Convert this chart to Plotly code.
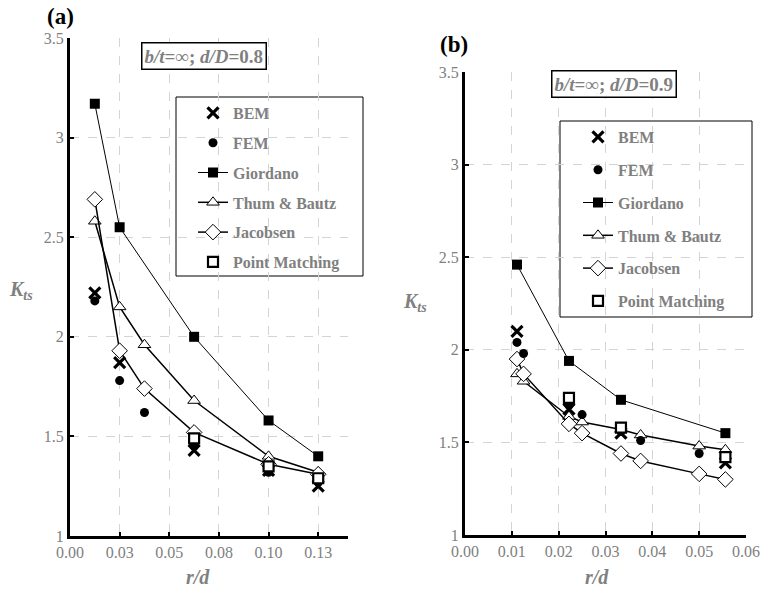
import plotly.graph_objects as go

W, H = 762, 589

# ---------------- data: panel (a) b/t=inf; d/D=0.8 ----------------
a_bem_x = [0.0125, 0.025, 0.0625, 0.1, 0.125]
a_bem_y = [2.22, 1.87, 1.43, 1.33, 1.25]
a_fem_x = [0.0125, 0.025, 0.0375, 0.0625, 0.1, 0.125]
a_fem_y = [2.18, 1.78, 1.62, 1.45, 1.32, 1.27]
a_gio_x = [0.0125, 0.025, 0.0625, 0.1, 0.125]
a_gio_y = [3.17, 2.55, 2.00, 1.58, 1.40]
a_thum_x = [0.0125, 0.025, 0.0375, 0.0625, 0.1, 0.125]
a_thum_y = [2.58, 2.15, 1.96, 1.68, 1.40, 1.32]
a_jac_x = [0.0125, 0.025, 0.0375, 0.0625, 0.1, 0.125]
a_jac_y = [2.69, 1.93, 1.74, 1.52, 1.36, 1.31]
a_pm_x = [0.0625, 0.1, 0.125]
a_pm_y = [1.49, 1.35, 1.29]

# ---------------- data: panel (b) b/t=inf; d/D=0.9 ----------------
b_bem_x = [0.0111, 0.0222, 0.0333, 0.0556]
b_bem_y = [2.10, 1.68, 1.55, 1.39]
b_fem_x = [0.0111, 0.0125, 0.0222, 0.025, 0.0333, 0.0375, 0.05, 0.0556]
b_fem_y = [2.04, 1.98, 1.70, 1.65, 1.56, 1.51, 1.44, 1.42]
b_gio_x = [0.0111, 0.0222, 0.0333, 0.0556]
b_gio_y = [2.46, 1.94, 1.73, 1.55]
b_thum_x = [0.0111, 0.0125, 0.0222, 0.025, 0.0333, 0.0375, 0.05, 0.0556]
b_thum_y = [1.87, 1.83, 1.64, 1.61, 1.57, 1.54, 1.48, 1.46]
b_jac_x = [0.0111, 0.0125, 0.0222, 0.025, 0.0333, 0.0375, 0.05, 0.0556]
b_jac_y = [1.95, 1.87, 1.60, 1.55, 1.44, 1.40, 1.33, 1.30]
b_pm_x = [0.0222, 0.0333, 0.0556]
b_pm_y = [1.74, 1.58, 1.42]

series_names = ["BEM", "FEM", "Giordano", "Thum & Bautz", "Jacobsen", "Point Matching"]

a_xtickvals = [0.0, 0.025, 0.05, 0.075, 0.1, 0.125]
a_xticktext = ["0.00", "0.03", "0.05", "0.08", "0.10", "0.13"]
b_xtickvals = [0.0, 0.01, 0.02, 0.03, 0.04, 0.05, 0.06]
b_xticktext = ["0.00", "0.01", "0.02", "0.03", "0.04", "0.05", "0.06"]
ytickvals = [1, 1.5, 2, 2.5, 3, 3.5]
yticktext = ["1", "1.5", "2", "2.5", "3", "3.5"]

SERIF = "Liberation Serif"
GREY = "#808080"


def px(xp):
    return xp / W


def py(yp):
    return 1 - yp / H


styles = {
    "BEM": dict(mode="markers", marker=dict(symbol="x-thin", size=11, color="black",
                                             line=dict(width=3.2, color="black"))),
    "FEM": dict(mode="markers", marker=dict(symbol="circle", size=9, color="black",
                                             line=dict(width=0))),
    "Giordano": dict(mode="lines+markers", line=dict(color="black", width=1),
                     marker=dict(symbol="square", size=10, color="black")),
    "Thum & Bautz": dict(mode="lines+markers", line=dict(color="black", width=1.5),
                         marker=dict(symbol="triangle-up", size=11, color="white",
                                     line=dict(color="black", width=1))),
    "Jacobsen": dict(mode="lines+markers", line=dict(color="black", width=1.5),
                     marker=dict(symbol="diamond", size=12, color="white",
                                 line=dict(color="black", width=1))),
    "Point Matching": dict(mode="markers", marker=dict(symbol="square", size=10, color="white",
                                                        line=dict(color="black", width=2.2))),
}
rank = {n: i for i, n in enumerate(series_names)}
draw_order = ["Giordano", "Thum & Bautz", "Jacobsen", "FEM", "BEM", "Point Matching"]

panel_a = {"BEM": (a_bem_x, a_bem_y), "FEM": (a_fem_x, a_fem_y), "Giordano": (a_gio_x, a_gio_y),
           "Thum & Bautz": (a_thum_x, a_thum_y), "Jacobsen": (a_jac_x, a_jac_y),
           "Point Matching": (a_pm_x, a_pm_y)}
panel_b = {"BEM": (b_bem_x, b_bem_y), "FEM": (b_fem_x, b_fem_y), "Giordano": (b_gio_x, b_gio_y),
           "Thum & Bautz": (b_thum_x, b_thum_y), "Jacobsen": (b_jac_x, b_jac_y),
           "Point Matching": (b_pm_x, b_pm_y)}

fig = go.Figure()
for panel, xa, ya, leg, tag in [(panel_a, "x", "y", "legend", "a"), (panel_b, "x2", "y2", "legend2", "b")]:
    for name in draw_order:
        xs, ys = panel[name]
        fig.add_trace(go.Scatter(x=xs, y=ys, name=name, xaxis=xa, yaxis=ya, legend=leg,
                                 legendgroup=tag + name, legendrank=rank[name] + 1,
                                 hoverinfo="skip", **styles[name]))

axis_common = dict(showline=True, linecolor="black", linewidth=3, mirror=False,
                   showgrid=True, gridcolor="#d4d4d4", griddash="dash", gridwidth=1,
                   zeroline=False, ticks="inside", ticklen=4, tickwidth=2, tickcolor="black",
                   automargin=False,
                   tickfont=dict(family=SERIF, size=16, color=GREY))

legend_font = dict(family=SERIF, size=16, color=GREY, weight="bold")

fig.update_layout(
    width=W, height=H, margin=dict(l=0, r=0, t=0, b=0, autoexpand=False),
    paper_bgcolor="white", plot_bgcolor="white",
    xaxis=dict(domain=[px(70), px(348)], range=[0, 0.14], tickvals=a_xtickvals,
               ticktext=a_xticktext, anchor="y", **axis_common),
    yaxis=dict(domain=[py(536), py(38)], range=[1, 3.5], tickvals=ytickvals,
               ticktext=yticktext, anchor="x", **axis_common),
    xaxis2=dict(domain=[px(465), px(746)], range=[0, 0.06], tickvals=b_xtickvals,
                ticktext=b_xticktext, anchor="y2", **axis_common),
    yaxis2=dict(domain=[py(535), py(72)], range=[1, 3.5], tickvals=ytickvals,
                ticktext=yticktext, anchor="x2", **axis_common),
    legend=dict(x=px(193), y=py(96), xanchor="left", yanchor="top", bgcolor="rgba(0,0,0,0)",
                borderwidth=0, tracegroupgap=6, font=legend_font),
    legend2=dict(x=px(578), y=py(120), xanchor="left", yanchor="top", bgcolor="rgba(0,0,0,0)",
                 borderwidth=0, tracegroupgap=9, font=legend_font),
    showlegend=True,
)

# legend boxes
fig.add_shape(type="rect", xref="paper", yref="paper", x0=px(176), x1=px(363), y0=py(276), y1=py(97),
              line=dict(color="black", width=1), fillcolor="white", layer="below")
fig.add_shape(type="rect", xref="paper", yref="paper", x0=px(560), x1=px(752), y0=py(317), y1=py(121),
              line=dict(color="black", width=1), fillcolor="white", layer="below")

ann = [
    dict(text="<b>(a)</b>", x=px(60), y=py(16), font=dict(family=SERIF, size=23, color="black")),
    dict(text="<b>(b)</b>", x=px(454), y=py(44), font=dict(family=SERIF, size=23, color="black")),
    dict(text="<b><i>K<sub>ts</sub></i></b>", x=px(21), y=py(290), font=dict(family=SERIF, size=20, color=GREY)),
    dict(text="<b><i>K<sub>ts</sub></i></b>", x=px(415), y=py(302), font=dict(family=SERIF, size=20, color=GREY)),
    dict(text="<b><i>r/d</i></b>", x=px(198), y=py(577), font=dict(family=SERIF, size=20, color=GREY)),
    dict(text="<b><i>r/d</i></b>", x=px(597), y=py(577), font=dict(family=SERIF, size=20, color=GREY)),
    dict(text="<b><i>b/t</i>=∞; <i>d/D</i>=0.8</b>", x=px(203.5), y=py(55.5),
         font=dict(family=SERIF, size=19, color=GREY), bordercolor="black", borderwidth=1.5,
         borderpad=2, bgcolor="white"),
    dict(text="<b><i>b/t</i>=∞; <i>d/D</i>=0.9</b>", x=px(614), y=py(84.5),
         font=dict(family=SERIF, size=19, color=GREY), bordercolor="black", borderwidth=1.5,
         borderpad=2, bgcolor="white"),
]
for a in ann:
    fig.add_annotation(xref="paper", yref="paper", showarrow=False, xanchor="center", yanchor="middle", **a)

fig.write_html("out.html", config={"displayModeBar": False},
               post_script="document.body.style.margin='0';document.body.style.overflow='hidden';")
